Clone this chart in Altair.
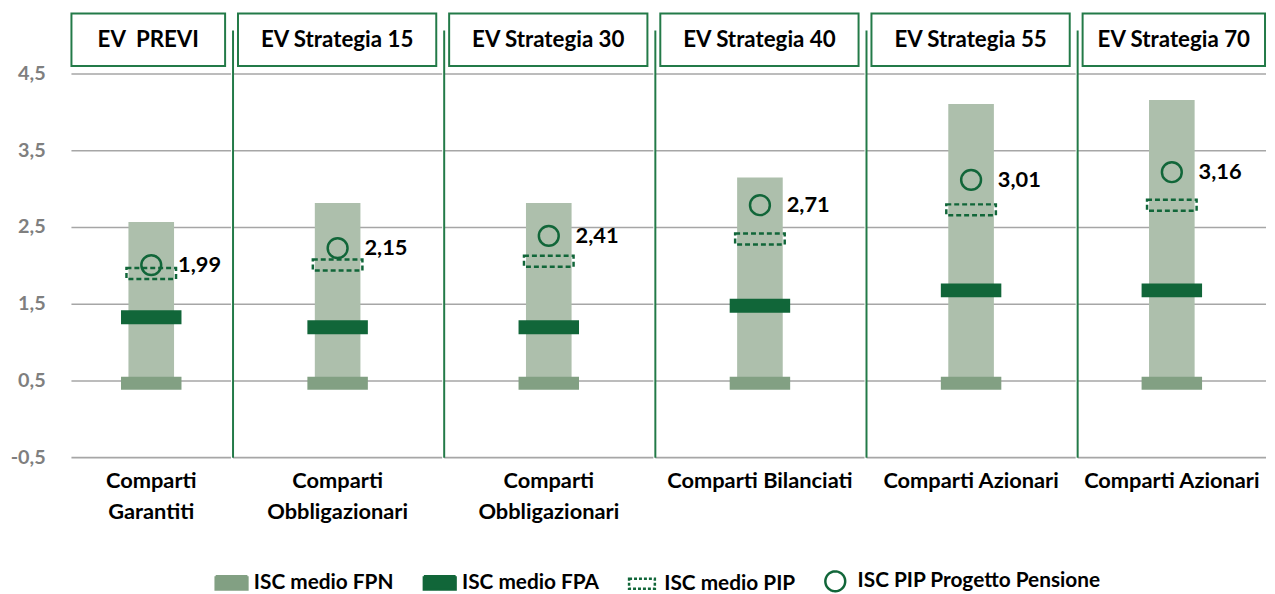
import altair as alt
import pandas as pd

# ---------------- data ----------------
panels = ["EV\u00a0 PREVI", "EV Strategia 15", "EV Strategia 30",
          "EV Strategia 40", "EV Strategia 55", "EV Strategia 70"]
categories = ["Comparti\nGarantiti", "Comparti\nObbligazionari", "Comparti\nObbligazionari",
              "Comparti Bilanciati", "Comparti Azionari", "Comparti Azionari"]
fpn_base = [0.47, 0.47, 0.47, 0.47, 0.47, 0.47]      # ISC medio FPN (lower marker)
fpn_top = [2.57, 2.82, 2.82, 3.15, 4.11, 4.16]       # ISC medio FPN (range top)
fpa = [1.33, 1.20, 1.20, 1.48, 1.68, 1.68]           # ISC medio FPA
pip = [1.90, 2.01, 2.06, 2.35, 2.73, 2.79]           # ISC medio PIP
pp_marker = [2.01, 2.23, 2.39, 2.79, 3.12, 3.22]     # ISC PIP Progetto Pensione (marker)
pp_values = [1.99, 2.15, 2.41, 2.71, 3.01, 3.16]     # ISC PIP Progetto Pensione (label)
legend_series = ["ISC medio FPN", "ISC medio FPA", "ISC medio PIP", "ISC PIP Progetto Pensione"]
y_ticks = [-0.5, 0.5, 1.5, 2.5, 3.5, 4.5]

df = pd.DataFrame({
    "idx": list(range(len(panels))),
    "panel": panels,
    "category": categories,
    "fpn_base": fpn_base,
    "fpn_top": fpn_top,
    "fpa": fpa,
    "pip": pip,
    "pp_marker": pp_marker,
    "label": [f"{v:.2f}".replace(".", ",") for v in pp_values],
})
ticks_df = pd.DataFrame({"t": y_ticks, "lab": [f"{v:.1f}".replace(".", ",") for v in y_ticks]})
leg_df = pd.DataFrame({"series": legend_series, "v": [None] * len(legend_series)})

# ---------------- style ----------------
FONT = "Lato"
LIGHT = "#adbfac"
MID = "#82a083"
DARK = "#116639"
LINEGREEN = "#237a48"
GRID = "#a6a6a6"
H = 387
panel_widths = [161, 211, 211, 211, 211, 190]

y_scale = alt.Scale(domain=[-0.5, 4.5], nice=False, zero=False)


def make_panel(i):
    w = panel_widths[i]
    base = alt.Chart(df).transform_filter(alt.datum.idx == i)
    x = alt.X("panel:N", axis=None)

    grid = alt.Chart(ticks_df).mark_rule(color=GRID, strokeWidth=1.6).encode(
        y=alt.Y("t:Q", scale=y_scale, axis=None))
    bar = base.mark_bar(size=46, color=LIGHT).encode(
        x=x, y=alt.Y("fpn_base:Q", axis=None), y2="fpn_top:Q")
    base_tick = base.mark_tick(size=61, thickness=13, color=MID, opacity=1).encode(
        x=x, y=alt.Y("fpn_base:Q", axis=None))
    fpa_tick = base.mark_tick(size=61, thickness=14, color=DARK, opacity=1).encode(
        x=x, y=alt.Y("fpa:Q", axis=None))
    pip_mark = base.mark_point(shape="M-1,-0.22H1V0.22H-1Z", size=2500, filled=False,
                               stroke=DARK, strokeWidth=2.5, strokeDash=[5, 3],
                               opacity=1).encode(x=x, y=alt.Y("pip:Q", axis=None))
    circle = base.mark_point(shape="circle", size=400, filled=False, stroke=DARK,
                             strokeWidth=2.5, opacity=1).encode(
        x=x, y=alt.Y("pp_marker:Q", axis=None))
    label = base.mark_text(align="left", baseline="middle", dx=27, font=FONT,
                           fontSize=22, fontWeight="bold", color="black").encode(
        x=x, y=alt.Y("pp_marker:Q", axis=None), text="label:N")

    x0 = 0 if i == 0 else 5
    x1 = w - 1 if i == len(panels) - 1 else w - 6
    header_box = base.mark_rect(fill="white", stroke=LINEGREEN, strokeWidth=2).encode(
        x=alt.value(x0), x2=alt.value(x1), y=alt.value(-61), y2=alt.value(-8))
    header_text = base.mark_text(font=FONT, fontSize=22.5, fontWeight="bold",
                                 color="black", baseline="middle").encode(
        x=alt.value((x0 + x1) / 2), y=alt.value(-34.5), text="panel:N")
    cat_text = base.mark_text(font=FONT, fontSize=22, fontWeight="bold", color="black",
                              baseline="top", lineBreak="\n", lineHeight=31).encode(
        x=x, y=alt.value(H + 14), text="category:N")

    layers = [grid, bar, base_tick, fpa_tick, pip_mark, circle, label,
              header_box, header_text, cat_text]
    if i > 0:
        sep = base.mark_rule(color=LINEGREEN, strokeWidth=2).encode(
            x=alt.value(0), y=alt.value(-44), y2=alt.value(H))
        layers.append(sep)
    if i == 0:
        ylab = alt.Chart(ticks_df).mark_text(
            align="right", baseline="middle", font=FONT, fontSize=20,
            fontWeight="bold", color="#7f7f7f").encode(
            x=alt.value(-26), y=alt.Y("t:Q", axis=None), text="lab:N")
        layers.append(ylab)
        leg = alt.Legend(title=None)
        legend_layer = alt.Chart(leg_df).mark_point(opacity=1, strokeWidth=2.5).encode(
            y=alt.Y("v:Q", axis=None),
            shape=alt.Shape("series:N", legend=leg, scale=alt.Scale(
                domain=legend_series,
                range=["M-3.2,-1.35H3.2V1.35H-3.2Z", "M-3.2,-1.35H3.2V1.35H-3.2Z",
                       "M-2.6,-1H2.6V1H-2.6Z",
                       "M2,0A2,2 0 1,1 -2,0A2,2 0 1,1 2,0Z"])),
            fill=alt.Fill("series:N", legend=leg, scale=alt.Scale(
                domain=legend_series, range=[MID, DARK, "transparent", "transparent"])),
            stroke=alt.Stroke("series:N", legend=leg, scale=alt.Scale(
                domain=legend_series, range=[MID, DARK, DARK, DARK])),
            strokeDash=alt.StrokeDash("series:N", legend=leg, scale=alt.Scale(
                domain=legend_series, range=[[1, 0], [1, 0], [3, 2], [1, 0]])),
        )
        layers.append(legend_layer)
    return alt.layer(*layers).properties(width=w, height=H)


chart = alt.hconcat(*[make_panel(i) for i in range(len(panels))], spacing=0).properties(
    padding={"left": 2, "top": 2, "right": 0, "bottom": 0}
).configure_view(stroke=None).configure_legend(
    orient="none", legendX=151, legendY=501, direction="horizontal", padding=0,
    labelFont=FONT, labelFontSize=21, labelFontWeight="bold", labelColor="black",
    labelLimit=0, symbolSize=100, symbolStrokeWidth=2.5, labelOffset=12,
    columnPadding=24, titleFontSize=0
)

chart.save("out.html", embed_options={"renderer": "svg", "actions": False})
